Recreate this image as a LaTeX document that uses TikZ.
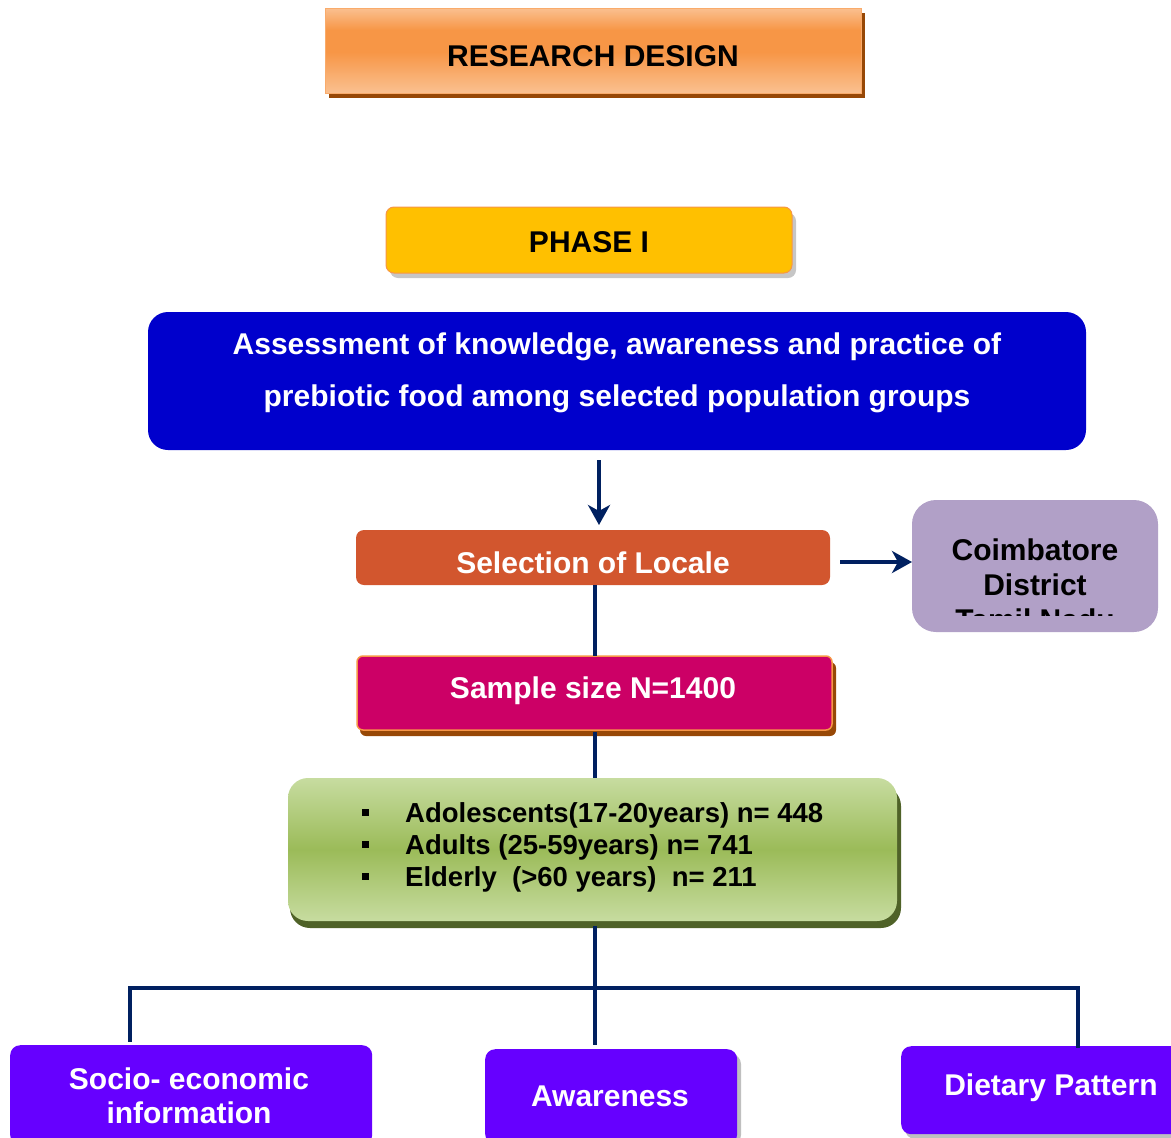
\documentclass[tikz,border=0pt]{standalone}
\usepackage{fontspec}
\setmainfont{Liberation Sans}
\usetikzlibrary{arrows.meta,shadows}
\definecolor{navy}{HTML}{002060}
\definecolor{orangeA}{HTML}{F79646}
\definecolor{orangeL}{HTML}{FAC090}
\definecolor{brownS}{HTML}{974806}
\definecolor{gold}{HTML}{FFC000}
\definecolor{royal}{HTML}{0000CC}
\definecolor{rust}{HTML}{D2562E}
\definecolor{lilac}{HTML}{B1A0C7}
\definecolor{magenta}{HTML}{CC0066}
\definecolor{greenM}{HTML}{9BBB59}
\definecolor{greenL}{HTML}{C7DCA0}
\definecolor{oliveS}{HTML}{4F6228}
\definecolor{violet}{HTML}{6600FF}
\newcommand{\bul}{\makebox[43pt][l]{\raisebox{6pt}{\rule{7pt}{7pt}}}}
\tikzset{
  lbl/.style={font=\bfseries\fontsize{30}{34}\selectfont, align=center},
  conn/.style={draw=navy, line width=3.5pt},
  arr/.style={conn, -{Stealth[length=20pt,width=22pt,inset=6pt]}},
  purplebox/.style={fill=violet, rounded corners=10pt, text=white},
}
\begin{document}
\begin{tikzpicture}[x=1pt,y=-1pt]
\useasboundingbox (0,0) rectangle (1171,1138);
% Research design
\fill[brownS] (329,13) rectangle (865,98);
\shade[top color=orangeL, bottom color=orangeA, middle color=orangeA] (325,8) rectangle (861,52);
\shade[top color=orangeA, bottom color=orangeL] (325,52) rectangle (861,93);
\draw[orangeA!80!white, line width=1pt] (325,8) rectangle (861,93);
\node[lbl] (rd) at (593,56) {RESEARCH DESIGN};
% Phase I
\fill[gray!45, rounded corners=8pt] (390,213) rectangle (796,278);
\filldraw[fill=gold, draw=orangeA, line width=1pt, rounded corners=8pt] (386,207) rectangle (792,273);
\node[lbl] (ph) at (589,242) {PHASE I};
% Assessment
\fill[royal, rounded corners=20pt] (148,312) rectangle (1086,450);
\node[lbl, text=white, font=\bfseries\fontsize{30}{52}\selectfont] (as) at (617,373) {Assessment of knowledge, awareness and practice of\\prebiotic food among selected population groups};
\coordinate (asb) at (599,460);
% Selection of Locale
\fill[rust, rounded corners=8pt] (356,530) rectangle (830,585);
\node[lbl, text=white] (sl) at (593,563) {Selection of Locale};
\coordinate (slt) at (599,525);
\coordinate (slr) at (840,562);
% Coimbatore
\fill[lilac, rounded corners=24pt] (912,500) rectangle (1158,632);
\coordinate (cbl) at (912,562);
\begin{scope}
\clip (912,500) rectangle (1158,615);
\node[lbl, text=black, font=\bfseries\fontsize{30}{35}\selectfont] (cb) at (1035,585) {Coimbatore\\District\\Tamil Nadu};
\end{scope}
% connectors top
\draw[arr] (asb) -- (slt);
\draw[arr] (slr) -- (cbl);
% Sample size
\coordinate (slb) at (595,585);
\fill[brownS, rounded corners=6pt] (360,662) rectangle (836,736);
\filldraw[fill=magenta, draw=orangeA, line width=1.5pt, rounded corners=6pt] (357,656) rectangle (832,730);
\node[lbl, text=white] (ss) at (593,691) {Sample size N=1400};
\coordinate (sst) at (595,656);
\coordinate (ssb) at (595,732);
\draw[conn] (slb) -- (sst);
% Groups
\fill[oliveS, rounded corners=20pt] (290,786) rectangle (901,928);
\shade[rounded corners=20pt, top color=greenL, bottom color=greenL, middle color=greenM] (288,778) rectangle (897,921);
\node[font=\bfseries\fontsize{27.5}{32}\selectfont, align=left, anchor=west, inner sep=0pt] (gr) at (362,847) {%
\bul Adolescents(17-20years) n= 448\\
\bul Adults (25-59years) n= 741\\
\bul Elderly\ \ (>60 years)\ \ n= 211};
\coordinate (grt) at (595,778);
\coordinate (grb) at (595,926);
\draw[conn] (ssb) -- (grt);
% bottom boxes
\node[purplebox, minimum width=362pt, minimum height=100pt, anchor=north west, inner sep=0pt] (se) at (10,1045) {};
\node[lbl, text=white, font=\bfseries\fontsize{30}{34}\selectfont] (set) at (189,1096) {Socio- economic\\information};
\fill[gray!50, rounded corners=10pt] (489,1054) rectangle (741,1145);
\node[purplebox, minimum width=252pt, minimum height=95pt, anchor=north west, inner sep=0pt] (aw) at (485,1049) {};
\node[lbl, text=white] (awt) at (610,1096) {Awareness};
\fill[gray!50, rounded corners=10pt] (905,1051) rectangle (1180,1139);
\node[purplebox, minimum width=280pt, minimum height=88pt, anchor=north west, inner sep=0pt] (dp) at (901,1046) {};
\node[lbl, text=white] (dpt) at (1051,1088) {Dietary Pattern};
% tree connectors
\coordinate (hl) at (130,988);
\coordinate (hm) at (595,988);
\coordinate (hr) at (1078,988);
\draw[conn] (grb) -- (595,1045);
\draw[conn, line cap=rect] (130,1040) -- (hl) -- (hr) -- (1078,1046);
\end{tikzpicture}
\end{document}
